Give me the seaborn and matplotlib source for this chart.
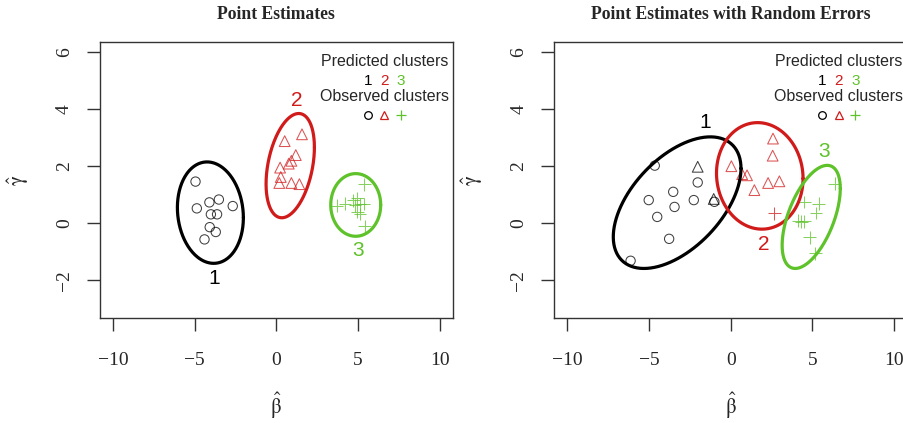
import numpy as np
import pandas as pd
import matplotlib
matplotlib.use("Agg")
import matplotlib.pyplot as plt
import seaborn as sns

# ---- datos ----
# Point Estimates
pe_x = [-4.95, -4.87, -4.10, -3.52, -2.67, -4.01, -3.63, -4.08, -3.71, -4.40,
        1.57, 0.51, 1.19, 0.92, 0.76, 0.23, 0.27, 0.18, 0.92, 1.41,
        5.38, 3.69, 4.20, 4.71, 4.95, 4.81, 5.12, 5.36, 4.95, 5.12, 5.42]
pe_y = [1.46, 0.52, 0.73, 0.83, 0.60, 0.31, 0.31, -0.14, -0.31, -0.57,
        3.12, 2.88, 2.39, 2.19, 2.09, 1.95, 1.62, 1.41, 1.41, 1.37,
        1.36, 0.61, 0.69, 0.81, 0.87, 0.63, 0.66, 0.67, 0.40, 0.32, -0.11]
pe_pred = [1] * 10 + [2] * 10 + [3] * 11
pe_obs = [1] * 10 + [2] * 10 + [3] * 11

# Point Estimates with Random Errors
re_x = [-4.65, -5.02, -3.52, -2.02, -3.44, -2.26, -1.00, -4.50, -3.77, -6.13,
        -2.02, -1.04,
        2.59, 2.57, 0.04, 0.70, 1.00, 1.45, 2.29, 2.98,
        2.67,
        6.36, 4.51, 5.38, 5.22, 4.12, 4.32, 4.51, 4.83, 5.18]
re_y = [2.02, 0.81, 1.10, 1.43, 0.57, 0.81, 0.75, 0.22, -0.55, -1.32,
        1.98, 0.85,
        2.97, 2.37, 2.00, 1.72, 1.68, 1.16, 1.41, 1.47,
        0.34,
        1.39, 0.74, 0.69, 0.36, 0.08, 0.05, 0.07, -0.50, -1.06]
re_pred = [1] * 10 + [1] * 2 + [2] * 8 + [2] + [3] * 9
re_obs = [1] * 10 + [2] * 2 + [2] * 8 + [3] + [3] * 9

# elipses de los clusters predichos (centro, semi-ancho, semi-alto, correlacion)
pe_ell_cx = [-4.04, 0.85, 4.86]
pe_ell_cy = [0.37, 2.02, 0.64]
pe_ell_hx = [2.02, 1.48, 1.53]
pe_ell_hy = [1.78, 1.83, 1.10]
pe_ell_rho = [-0.10, 0.35, 0.0]

re_ell_cx = [-3.28, 1.78, 4.93]
re_ell_cy = [0.72, 1.66, 0.22]
re_ell_hx = [3.91, 2.65, 1.78]
re_ell_hy = [2.31, 1.87, 1.81]
re_ell_rho = [0.52, -0.05, 0.55]

# etiquetas de cluster
pe_lab_x = [-3.80, 1.27, 5.00]
pe_lab_y = [-1.93, 4.32, -0.95]
re_lab_x = [-1.55, 2.02, 5.73]
re_lab_y = [3.52, -0.74, 2.50]

clusters = [1, 2, 3]
colores = {1: "#000000", 2: "#D11A1A", 3: "#5EC22A"}
marcadores = {1: "o", 2: "^", 3: "+"}
tamanos = {1: 45, 2: 60, 3: 85}

sns.set_style("white")
plt.rcParams["font.family"] = ["Liberation Sans", "DejaVu Sans"]
plt.rcParams["mathtext.fontset"] = "stix"

fig = plt.figure(figsize=(9.04, 4.23), dpi=100)
ax1 = fig.add_axes([0.1106, 0.2475, 0.3902, 0.6525])
ax2 = fig.add_axes([0.6132, 0.2475, 0.3902, 0.6525])


def dibujar(ax, x, y, pred, obs, cx, cy, hx, hy, rho, lx, ly, titulo):
    df = pd.DataFrame({"x": x, "y": y, "pred": pred, "obs": obs})
    for o in clusters:
        sub = df[df["obs"] == o]
        sns.scatterplot(data=sub, x="x", y="y", hue="pred", palette=colores,
                        marker=marcadores[o], s=tamanos[o], linewidth=0.75,
                        alpha=0.75, legend=False, ax=ax)
        coll = ax.collections[-1]
        coll.set_edgecolors([colores[p] for p in sub["pred"]])
        coll.set_facecolors("none")
        coll.set_alpha(0.75)

    t = np.linspace(0, 2 * np.pi, 300)
    for k, c in enumerate(clusters):
        ex = cx[k] + hx[k] * np.cos(t)
        ey = cy[k] + hy[k] * (rho[k] * np.cos(t) + np.sqrt(1 - rho[k] ** 2) * np.sin(t))
        sns.lineplot(x=ex, y=ey, sort=False, estimator=None, color=colores[c],
                     linewidth=2.3, ax=ax)
        ax.text(lx[k], ly[k], str(c), color=colores[c], fontsize=15,
                ha="center", va="center")

    # leyenda estilo R
    xc = 0.806
    ax.text(xc, 0.932, "Predicted clusters", transform=ax.transAxes,
            ha="center", va="center", fontsize=11.5)
    ax.text(xc, 0.805, "Observed clusters", transform=ax.transAxes,
            ha="center", va="center", fontsize=11.5)
    for k, c in enumerate(clusters):
        xk = xc + (k - 1) * 0.047
        ax.text(xk, 0.860, str(c), transform=ax.transAxes, color=colores[c],
                ha="center", va="center", fontsize=11)
        ax.plot([xk], [0.738], transform=ax.transAxes, marker=marcadores[c],
                markersize=6.5 if c == 3 else 5.5, mfc="none", mec=colores[c],
                mew=0.9, linestyle="none", clip_on=False)

    ax.set_xlim(-10.8, 10.8)
    ax.set_ylim(-3.34, 6.35)
    ax.set_xticks([-10, -5, 0, 5, 10])
    ax.set_yticks([-2, 0, 2, 4, 6])
    ax.set_xticklabels(["\u221210", "\u22125", "0", "5", "10"])
    ax.set_yticklabels(["\u22122", "0", "2", "4", "6"])
    for lab in ax.get_xticklabels() + ax.get_yticklabels():
        lab.set_fontfamily("Liberation Serif")
        lab.set_fontsize(14)
    plt.setp(ax.get_yticklabels(), rotation=90, va="center")
    ax.tick_params(axis="both", direction="out", length=9.4, width=1.0,
                   color="#333333", left=True, bottom=True)
    ax.tick_params(axis="x", pad=15)
    ax.tick_params(axis="y", pad=10)
    for sp in ax.spines.values():
        sp.set_color("#333333")
        sp.set_linewidth(1.0)

    ax.set_xlabel(r"$\hat{\mathrm{\beta}}$", fontsize=15)
    ax.xaxis.set_label_coords(0.5, -0.318)
    ax.xaxis.label.set_va("center")
    ax.set_ylabel(r"$\hat{\mathrm{\gamma}}$", fontsize=15)
    ax.yaxis.set_label_coords(-0.232, 0.5)
    ax.yaxis.label.set_va("center")
    ax.set_title(titulo, fontfamily="Liberation Serif", fontweight="bold",
                 fontsize=12.7, pad=17)


dibujar(ax1, pe_x, pe_y, pe_pred, pe_obs, pe_ell_cx, pe_ell_cy, pe_ell_hx,
        pe_ell_hy, pe_ell_rho, pe_lab_x, pe_lab_y, "Point Estimates")
dibujar(ax2, re_x, re_y, re_pred, re_obs, re_ell_cx, re_ell_cy, re_ell_hx,
        re_ell_hy, re_ell_rho, re_lab_x, re_lab_y,
        "Point Estimates with Random Errors")

fig.savefig("out.png", dpi=100)
